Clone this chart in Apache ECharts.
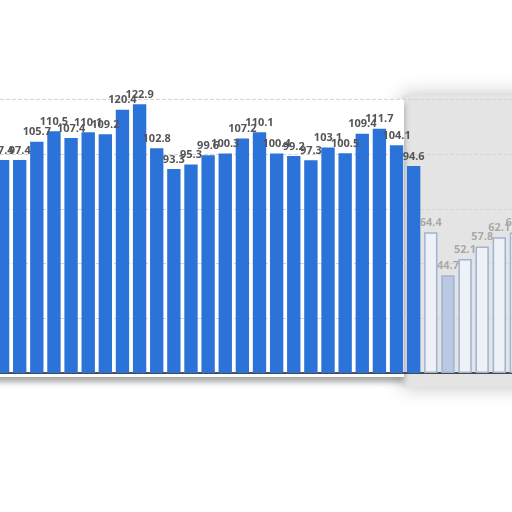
<!DOCTYPE html>
<html>
<head>
<meta charset="utf-8">
<script src="https://cdn.jsdelivr.net/npm/echarts@6/dist/echarts.min.js"></script>
<style>html,body{margin:0;padding:0;background:#fff;overflow:hidden}#c{position:absolute;left:-6px;top:0;width:531px;height:512px}</style>
</head>
<body>
<div id="c"></div>
<script>
var categories = ['1','2','3','4','5','6','7','8','9','10','11','12','13','14','15','16','17','18','19','20','21','22','23','24','25','26','27','28','29','30','31'];
var solidValues = [97.4,97.4,105.7,110.5,107.4,110.1,109.2,120.4,122.9,102.8,93.3,95.3,99.6,100.3,107.2,110.1,100.4,99.2,97.3,103.1,100.5,109.4,111.7,104.1,94.6];
var fadedValues = [64.4,44.7,52.1,57.8,62.1,64.2];
var yTicks = [0,25,50,75,100,125];

var data = [];
solidValues.forEach(function(v){ data.push({value:v}); });
fadedValues.forEach(function(v,i){
  data.push({value:v,
    itemStyle:{color: i===1 ? '#b9c9e3' : '#eef1f5', borderColor:'#9fb3d2', borderWidth:1.5},
    label:{color:'#a8a8a8'}});
});

var chart = echarts.init(document.getElementById('c'));
chart.setOption({
  backgroundColor:'#ffffff',
  animation:false,
  graphic:[
    {type:'rect', z:-10, shape:{x:408,y:95,width:140,height:292}, style:{fill:'#e4e4e4', shadowBlur:18, shadowColor:'rgba(0,0,0,0.25)'}},
    {type:'rect', z:-9, shape:{x:-20,y:99,width:430,height:278}, style:{fill:'#ffffff', shadowBlur:6, shadowOffsetY:5, shadowColor:'rgba(0,0,0,0.35)'}}
  ],
  grid:{left:0, right:0, top:99.6, bottom:139, containLabel:false},
  xAxis:{type:'category', data:categories,
    axisLine:{lineStyle:{color:'#1a1a1a', width:1.5}},
    axisTick:{show:false}, axisLabel:{show:false}},
  yAxis:{type:'value', min:yTicks[0], max:yTicks[yTicks.length-1], interval:25,
    axisLabel:{show:false}, axisLine:{show:false}, axisTick:{show:false},
    splitLine:{lineStyle:{color:'#d4d4d4', type:'dashed'}}},
  series:[{
    type:'bar', data:data, barCategoryGap:'22%',
    itemStyle:{color:'#2b73d8'},
    label:{show:true, position:'top', distance:4, fontSize:11, fontWeight:'bold', color:'#555555', fontFamily:'Open Sans'}
  }]
});
</script>
</body>
</html>
